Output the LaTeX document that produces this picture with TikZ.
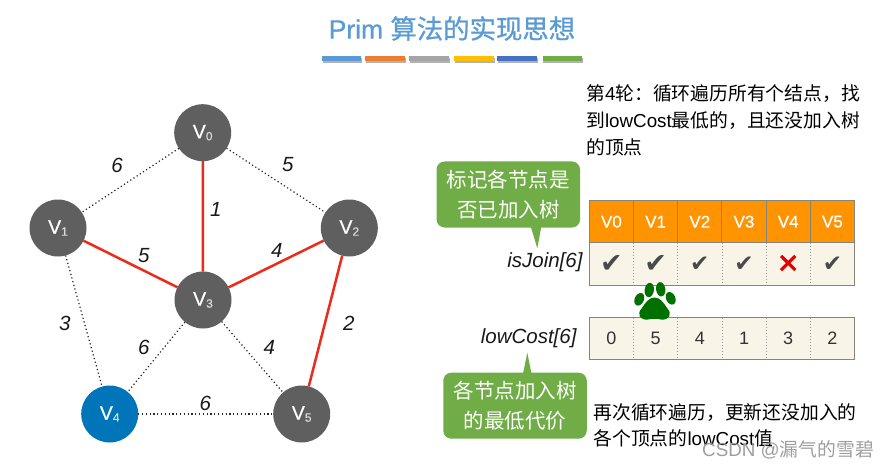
\documentclass[tikz,border=0pt]{standalone}
\usepackage{fontspec}
\setmainfont{Liberation Sans}
\newfontfamily\cjkf{Noto Sans CJK SC}
\newfontfamily\cjkm[FakeBold=0.8]{Noto Sans CJK SC}
\newfontfamily\latm[FakeBold=0.6]{Liberation Sans}
\newfontfamily\symf{DejaVu Sans}
\newfontfamily\symb[FakeBold=1.6]{DejaVu Sans}
\newcommand\zh[1]{{\cjkf #1}}
\newcommand\fs[2]{\fontsize{#1}{#2}\selectfont}
\newcommand\vsub[1]{V\raisebox{-2pt}{\fs{12}{12}\color{white!85!black}#1}}
\definecolor{titleblue}{HTML}{5B9BD5}
\definecolor{vgray}{HTML}{5F5F5F}
\definecolor{vblue}{HTML}{0075B9}
\definecolor{calloutgreen}{HTML}{70AD47}
\definecolor{cellorange}{HTML}{FF9300}
\definecolor{cellcream}{HTML}{F8F5E8}
\definecolor{cellline}{HTML}{85857C}
\definecolor{checkgray}{HTML}{4A4A4A}
\definecolor{edgered}{HTML}{EE2A1B}
\definecolor{pawgreen}{HTML}{007000}
\tikzset{
  vertex/.style={circle,fill=vgray,text=white,minimum size=57pt,inner sep=0pt,outer sep=0pt,font=\fs{19.5}{21}\latm},
  plainedge/.style={line width=1.2pt,dash pattern=on 1.2pt off 2.6pt,black!85},
  treeedge/.style={line width=2.5pt,edgered},
  weight/.style={font=\fs{20.5}{22}\itshape,text=black!90,inner sep=0pt},
  barshadow/.style={fill=black!30},
  headcell/.style={rectangle,draw=cellline,line width=1pt,fill=cellorange,text=white,minimum width=44.2pt,minimum height=42.2pt,inner sep=0pt,font=\fs{17}{19}\latm},
  bodycell/.style={rectangle,fill=cellcream,minimum width=44.2pt,inner sep=0pt,font=\fs{18}{20},text=black!80},
  divider/.style={line width=1pt,dotted,black!40},
  frameline/.style={draw=cellline,line width=1pt},
  callout/.style={rectangle,rounded corners=8pt,fill=calloutgreen,text=white,inner sep=0pt,minimum width=143.5pt,minimum height=66pt,align=center,font=\fs{20.5}{29.3}\cjkf},
  body/.style={inner sep=0pt,align=left,anchor=north west,font=\fs{18.8}{26.8}\cjkf,text=black},
  arrname/.style={font=\fs{20.5}{22}\itshape,text=black!90,inner sep=0pt,anchor=east},
  chk/.style={inner sep=0pt,text=checkgray},
}
\begin{document}
\begin{tikzpicture}[x=1pt,y=-1pt]
\useasboundingbox (0,0) rectangle (889,468);
\fill[white] (0,0) rectangle (889,468);
% title
\node[inner sep=0pt,text=titleblue,font=\fs{26.4}{28}] (title) at (452,28.5) {{\latm Prim} {\cjkm 算法的实现思想}};
\foreach \a/\b/\c in {322/361.3/5B9BD5,365/405/ED7D31,409/449/A5A5A5,454/494/FFC000,497/537/4472C4,542.7/582/70AD47}{
  \definecolor{barc}{HTML}{\c}
  \fill[barshadow] (\a+0.5,58) rectangle (\b+0.5,63);
  \fill[barc] (\a,56) rectangle (\b,61.3);
}
% graph
\node[vertex] (v0) at (202.7,132.7) {\vsub{0}};
\node[vertex] (v1) at (58,228) {\vsub{1}};
\node[vertex] (v2) at (349.3,228) {\vsub{2}};
\node[vertex] (v3) at (203,300) {\vsub{3}};
\node[vertex,fill=vblue] (v4) at (109.7,414) {\vsub{4}};
\node[vertex] (v5) at (301.7,414) {\vsub{5}};
\draw[plainedge] (v0) -- (v1);
\draw[plainedge] (v0) -- (v2);
\draw[plainedge] (v1) -- (v4);
\draw[plainedge] (v3) -- (v4);
\draw[plainedge] (v3) -- (v5);
\draw[plainedge] (v4) -- (v5);
\draw[treeedge] (v0) -- (v3);
\draw[treeedge] (v1) -- (v3);
\draw[treeedge] (v2) -- (v3);
\draw[treeedge] (v2) -- (v5);
\node[weight] (w1) at (117,165) {6};
\node[weight] (w2) at (287.7,165) {5};
\node[weight] (w3) at (215.7,209) {1};
\node[weight] (w4) at (143.7,255.7) {5};
\node[weight] (w5) at (276.7,250.7) {4};
\node[weight] (w6) at (64.7,323) {3};
\node[weight] (w7) at (348.7,323) {2};
\node[weight] (w8) at (143.7,347.7) {6};
\node[weight] (w9) at (269.3,347) {4};
\node[weight] (w10) at (205.3,403) {6};
% top text
\node[body] (toptext) at (586,84.5) {第{\fontspec{Liberation Sans}4}轮：循环遍历所有个结点，找\\到{\fontspec{Liberation Sans}lowCost}最低的，且还没加入树\\的顶点};
% tables
\foreach \i/\lab/\val in {0/V0/0,1/V1/5,2/V2/4,3/V3/1,4/V4/3,5/V5/2}{
  \node[headcell] (h\i) at (611.4+44.2*\i,221.7) {\lab};
  \node[bodycell,minimum height=42.6pt] (j\i) at (611.4+44.2*\i,264) {};
  \node[bodycell,minimum height=41.6pt] (c\i) at (611.4+44.2*\i,338.5) {\val};
}
\foreach \i/\k in {0/1,1/2,2/3,3/4,4/5}{
  \draw[divider] (j\i.north east) -- (j\i.south east);
  \draw[divider] (c\i.north east) -- (c\i.south east);
}
\draw[frameline] (j0.north west) rectangle (j5.south east);
\draw[frameline] (c0.north west) rectangle (c5.south east);
\node[chk,font=\fs{27}{28}\symf] at (j0) {✔};
\node[chk,font=\fs{27}{28}\symf] at (j1) {✔};
\node[chk,font=\fs{23}{24}\symf] at (j2) {✔};
\node[chk,font=\fs{23}{24}\symf] at (j3) {✔};
\node[chk,text=red!90!black,font=\fs{27}{28}\symb] at (j4) {✕};
\node[chk,font=\fs{23}{24}\symf] at (j5) {✔};
\node[arrname] (isjoin) at (582.7,261.7) {isJoin[6]};
\node[arrname] (lowcost) at (576.7,338.5) {lowCost[6]};
% paw
\begin{scope}[pawgreen]
  \fill[rotate around={-25:(639.3,299.3)}] (639.3,299.3) ellipse (4.6pt and 6.6pt);
  \fill[rotate around={-8:(649.3,290)}] (649.3,290) ellipse (4.6pt and 7.2pt);
  \fill[rotate around={8:(660.7,289.3)}] (660.7,289.3) ellipse (4.6pt and 7.2pt);
  \fill[rotate around={25:(670.7,298.3)}] (670.7,298.3) ellipse (4.6pt and 6.6pt);
  \fill (654.5,297.5) .. controls (660,297.5) and (664,303) .. (667,308) .. controls (673,314) and (669,320.5) .. (661,319.5) .. controls (657,318.5) and (652,318.5) .. (648,319.5) .. controls (640,320.5) and (636,314) .. (642,308) .. controls (645,303) and (649,297.5) .. (654.5,297.5);
\end{scope}
% callouts
\node[callout] (call1) at (508.3,194.5) {标记各节点是\\否已加入树};
\coordinate (tip1) at (537.3,248.3);
\fill[calloutgreen] ([xshift=22.5pt,yshift=1pt]call1.south) -- (tip1) -- ([xshift=33pt,yshift=1pt]call1.south) -- cycle;
\node[callout] (call2) at (515,405.7) {各节点加入树\\的最低代价};
\coordinate (tip2) at (527.3,352.7);
\fill[calloutgreen] ([xshift=8pt,yshift=-1pt]call2.north) -- (tip2) -- ([xshift=16.5pt,yshift=-1pt]call2.north) -- cycle;
% bottom text
\node[body] (bottext) at (593.3,403) {再次循环遍历，更新还没加入的\\各个顶点的{\fontspec{Liberation Sans}lowCost}值};
% watermark
\node[inner sep=0pt,anchor=east,text=black!38,font=\fs{18.8}{20}] (wm) at (874,450) {CSDN @\zh{漏气的雪碧}};
\end{tikzpicture}
\end{document}
